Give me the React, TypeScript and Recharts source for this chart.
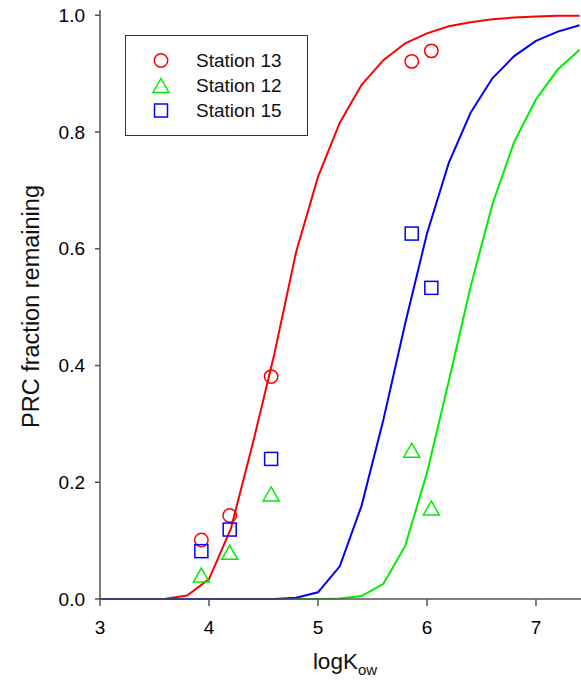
import React from 'react';
import { ComposedChart, Line, Scatter, XAxis, YAxis } from 'recharts';

// model curves (sampled every 0.2 logKow)
const curveX = [3.0, 3.2, 3.4, 3.6, 3.8, 4.0, 4.2, 4.4, 4.6, 4.8, 5.0, 5.2, 5.4, 5.6, 5.8, 6.0, 6.2, 6.4, 6.6, 6.8, 7.0, 7.2, 7.4];
const fit13 = [0, 0, 0, 0.0003, 0.006, 0.034, 0.12, 0.265, 0.42, 0.595, 0.723, 0.816, 0.881, 0.923, 0.952, 0.969, 0.981, 0.988, 0.993, 0.996, 0.998, 0.999, 0.999];
const fit12 = [0, 0, 0, 0, 0, 0, 0, 0, 0, 0, 0, 0.0007, 0.005, 0.026, 0.091, 0.216, 0.373, 0.535, 0.676, 0.783, 0.856, 0.907, 0.941];
const fit15 = [0, 0, 0, 0, 0, 0, 0, 0, 0, 0.002, 0.0115, 0.056, 0.16, 0.307, 0.472, 0.626, 0.747, 0.833, 0.892, 0.93, 0.956, 0.972, 0.983];

// measured PRCs
const prcX = [3.93, 4.19, 4.57, 5.86, 6.04];
const obs13 = [0.101, 0.143, 0.381, 0.921, 0.939];
const obs12 = [0.041, 0.080, 0.180, 0.255, 0.156];
const obs15 = [0.082, 0.119, 0.240, 0.626, 0.533];

const xTicks = [3, 4, 5, 6, 7];
const yTicks = [0, 0.2, 0.4, 0.6, 0.8, 1.0];

const RED = '#ff0000';
const GREEN = '#00ee00';
const BLUE = '#0000ff';
const FONT = '"Liberation Sans", Arial, sans-serif';

const toPts = (xs: number[], ys: number[]) => xs.map((x, i) => ({ x, y: ys[i] }));

const circle = (color: string) => (p: any) => (
  <circle cx={p.cx} cy={p.cy} r={6.7} fill="none" stroke={color} strokeWidth={1.5} />
);
const triangle = (color: string) => (p: any) => (
  <path d={`M${p.cx},${p.cy - 7} L${p.cx + 8},${p.cy + 7} L${p.cx - 8},${p.cy + 7} Z`} fill="none" stroke={color} strokeWidth={1.5} />
);
const square = (color: string) => (p: any) => (
  <rect x={p.cx - 6.5} y={p.cy - 6.5} width={13} height={13} fill="none" stroke={color} strokeWidth={1.5} />
);

const legendRows = [
  { label: 'Station 13', color: RED, kind: 'circle' },
  { label: 'Station 12', color: GREEN, kind: 'triangle' },
  { label: 'Station 15', color: BLUE, kind: 'square' },
];

function LegendBox() {
  return (
    <div style={{ position: 'absolute', left: 125, top: 35, width: 181, height: 99, border: '1px solid #333', background: '#fff', fontFamily: FONT, fontSize: 19 }}>
      {legendRows.map((r, i) => (
        <div key={r.label} style={{ position: 'absolute', left: 0, top: 12 + i * 25, height: 25, display: 'flex', alignItems: 'center' }}>
          <svg width={70} height={25}>
            {r.kind === 'circle' && <circle cx={35} cy={12.5} r={6.7} fill="none" stroke={r.color} strokeWidth={1.5} />}
            {r.kind === 'triangle' && <path d="M35,5.5 L43,19.5 L27,19.5 Z" fill="none" stroke={r.color} strokeWidth={1.5} />}
            {r.kind === 'square' && <rect x={28.5} y={6} width={13} height={13} fill="none" stroke={r.color} strokeWidth={1.5} />}
          </svg>
          <span style={{ color: '#111', lineHeight: '25px' }}>{r.label}</span>
        </div>
      ))}
    </div>
  );
}

export default function App() {
  const tickStyle = { fill: '#000', fontSize: 19, fontFamily: FONT };
  return (
    <div style={{ position: 'absolute', left: 0, top: 0, width: 581, height: 686, background: '#fff' }}>
      <ComposedChart width={581} height={686} margin={{ top: 10, right: 0, bottom: 47, left: 0 }}>
        <XAxis
          dataKey="x"
          type="number"
          domain={[3, 7.413]}
          ticks={xTicks}
          height={40}
          stroke="#555"
          strokeWidth={1.5}
          tickSize={7}
          tickMargin={15}
          tick={tickStyle}
        />
        <XAxis xAxisId="top" orientation="top" type="number" domain={[3, 7.413]} height={0} tick={false} tickLine={false} stroke="#000" strokeWidth={1.5} />
        <YAxis
          type="number"
          domain={[0, 1.009]}
          ticks={yTicks}
          width={100}
          stroke="#555"
          strokeWidth={1.5}
          tickSize={5}
          tickMargin={10}
          tick={tickStyle}
          tickFormatter={(v: number) => v.toFixed(1)}
        />
        <Line data={toPts(curveX, fit13)} dataKey="y" stroke={RED} strokeWidth={2} dot={false} isAnimationActive={false} />
        <Line data={toPts(curveX, fit12)} dataKey="y" stroke={GREEN} strokeWidth={2} dot={false} isAnimationActive={false} />
        <Line data={toPts(curveX, fit15)} dataKey="y" stroke={BLUE} strokeWidth={2} dot={false} isAnimationActive={false} />
        <Scatter name="Station 13" data={toPts(prcX, obs13)} dataKey="y" shape={circle(RED)} isAnimationActive={false} />
        <Scatter name="Station 12" data={toPts(prcX, obs12)} dataKey="y" shape={triangle(GREEN)} isAnimationActive={false} />
        <Scatter name="Station 15" data={toPts(prcX, obs15)} dataKey="y" shape={square(BLUE)} isAnimationActive={false} />
      </ComposedChart>
      <LegendBox />
      <div style={{ position: 'absolute', left: 0, top: 649, width: 690, textAlign: 'center', fontFamily: FONT, fontSize: 22.5, color: '#111' }}>
        logK<sub style={{ fontSize: 15 }}>ow</sub>
      </div>
      <div style={{ position: 'absolute', left: 31, top: 307, width: 0, height: 0 }}>
        <div style={{ position: 'absolute', left: -200, top: -14, width: 400, textAlign: 'center', transform: 'rotate(-90deg)', fontFamily: FONT, fontSize: 23.5, color: '#111', whiteSpace: 'nowrap' }}>
          PRC fraction remaining
        </div>
      </div>
    </div>
  );
}
